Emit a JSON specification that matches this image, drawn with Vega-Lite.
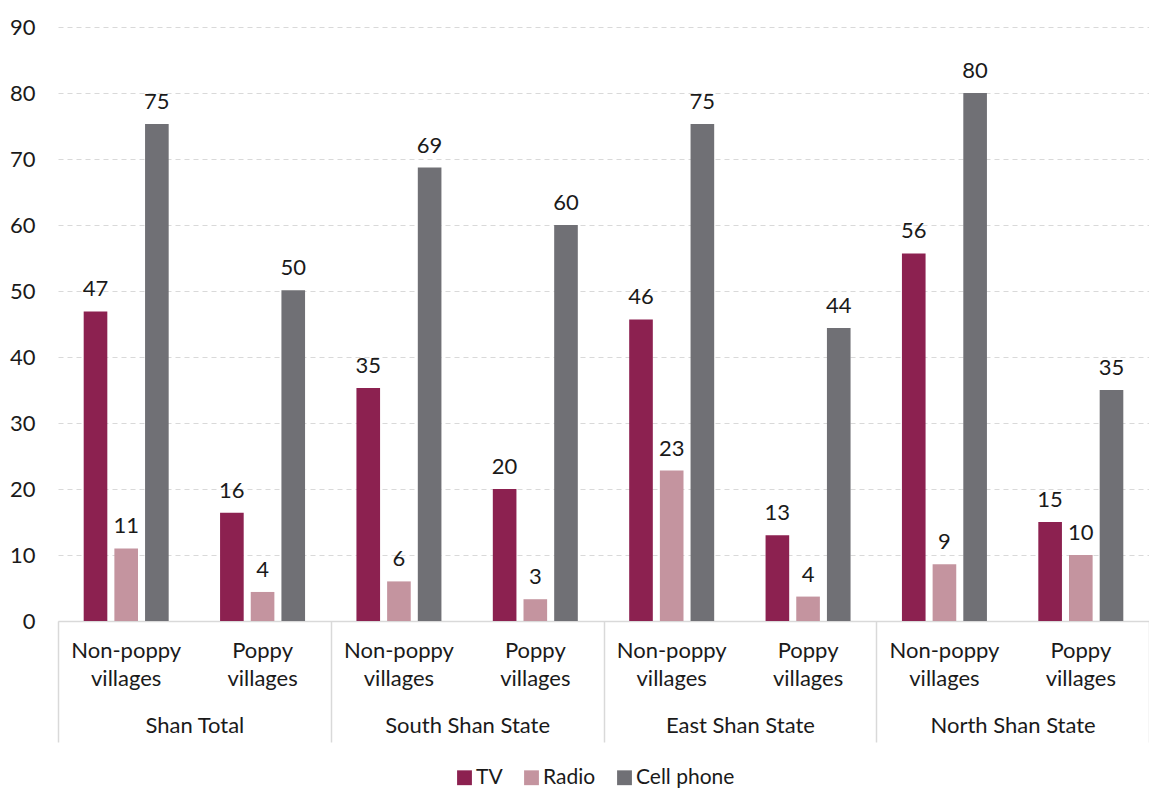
{
  "$schema": "https://vega.github.io/schema/vega-lite/v6.json",
  "width": 1091,
  "height": 594,
  "autosize": {"type": "none"},
  "padding": {"left": 58, "top": 27, "right": 0, "bottom": 168},
  "config": {
    "view": {"stroke": null},
    "font": "Lato",
    "axis": {"labelFont": "Lato", "labelColor": "#1a1a1a", "labelFontSize": 22, "title": null},
    "legend": {"labelFont": "Lato"}
  },
  "data": {
    "values": [
      {"region": "Shan Total", "col": "Shan Total|Non-poppy villages", "item": "TV", "value": 46.9},
      {"region": "Shan Total", "col": "Shan Total|Non-poppy villages", "item": "Radio", "value": 11.0},
      {"region": "Shan Total", "col": "Shan Total|Non-poppy villages", "item": "Cell phone", "value": 75.3},
      {"region": "Shan Total", "col": "Shan Total|Poppy villages", "item": "TV", "value": 16.4},
      {"region": "Shan Total", "col": "Shan Total|Poppy villages", "item": "Radio", "value": 4.4},
      {"region": "Shan Total", "col": "Shan Total|Poppy villages", "item": "Cell phone", "value": 50.1},
      {"region": "South Shan State", "col": "South Shan State|Non-poppy villages", "item": "TV", "value": 35.3},
      {"region": "South Shan State", "col": "South Shan State|Non-poppy villages", "item": "Radio", "value": 6.0},
      {"region": "South Shan State", "col": "South Shan State|Non-poppy villages", "item": "Cell phone", "value": 68.7},
      {"region": "South Shan State", "col": "South Shan State|Poppy villages", "item": "TV", "value": 20.0},
      {"region": "South Shan State", "col": "South Shan State|Poppy villages", "item": "Radio", "value": 3.3},
      {"region": "South Shan State", "col": "South Shan State|Poppy villages", "item": "Cell phone", "value": 60.0},
      {"region": "East Shan State", "col": "East Shan State|Non-poppy villages", "item": "TV", "value": 45.7},
      {"region": "East Shan State", "col": "East Shan State|Non-poppy villages", "item": "Radio", "value": 22.8},
      {"region": "East Shan State", "col": "East Shan State|Non-poppy villages", "item": "Cell phone", "value": 75.3},
      {"region": "East Shan State", "col": "East Shan State|Poppy villages", "item": "TV", "value": 13.0},
      {"region": "East Shan State", "col": "East Shan State|Poppy villages", "item": "Radio", "value": 3.7},
      {"region": "East Shan State", "col": "East Shan State|Poppy villages", "item": "Cell phone", "value": 44.4},
      {"region": "North Shan State", "col": "North Shan State|Non-poppy villages", "item": "TV", "value": 55.7},
      {"region": "North Shan State", "col": "North Shan State|Non-poppy villages", "item": "Radio", "value": 8.6},
      {"region": "North Shan State", "col": "North Shan State|Non-poppy villages", "item": "Cell phone", "value": 80.0},
      {"region": "North Shan State", "col": "North Shan State|Poppy villages", "item": "TV", "value": 15.0},
      {"region": "North Shan State", "col": "North Shan State|Poppy villages", "item": "Radio", "value": 10.0},
      {"region": "North Shan State", "col": "North Shan State|Poppy villages", "item": "Cell phone", "value": 35.0}
    ]
  },
  "layer": [
    {
      "encoding": {
        "x": {
          "field": "col", "type": "nominal", "sort": null,
          "scale": {"paddingInner": 0.325, "paddingOuter": 0.1625},
          "axis": {
            "orient": "bottom",
            "labelExpr": "split(split(datum.value, '|')[1], ' ')",
            "labelAngle": 0,
            "labelPadding": 19,
            "labelLineHeight": 28,
            "labelBaseline": "top",
            "ticks": false,
            "domain": true,
            "domainColor": "#d9d9d9",
            "domainWidth": 1.5,
            "grid": false
          }
        },
        "xOffset": {
          "field": "item", "type": "nominal", "sort": ["TV", "Radio", "Cell phone"],
          "scale": {"paddingInner": 0.23, "paddingOuter": 0.115}
        },
        "y": {
          "field": "value", "type": "quantitative",
          "scale": {"domain": [0, 90], "nice": false},
          "axis": {
            "values": [0, 10, 20, 30, 40, 50, 60, 70, 80, 90],
            "domain": false,
            "ticks": false,
            "labelPadding": 23,
            "grid": true,
            "gridColor": "#d9d9d9",
            "gridDash": [5, 4],
            "gridWidth": 1.2
          }
        }
      },
      "layer": [
        {
          "mark": {"type": "bar"},
          "encoding": {
            "color": {
              "field": "item", "type": "nominal",
              "scale": {"domain": ["TV", "Radio", "Cell phone"], "range": ["#8c2150", "#c4949f", "#707075"]},
              "legend": {
                "title": null,
                "orient": "none",
                "legendX": 396,
                "legendY": 740,
                "direction": "horizontal",
                "symbolType": "square",
                "symbolSize": 220,
                "symbolStrokeWidth": 0,
                "symbolOpacity": 1,
                "labelFontSize": 21,
                "labelColor": "#1a1a1a",
                "columnPadding": 18,
                "labelOffset": 1
              }
            }
          }
        },
        {
          "mark": {"type": "text", "baseline": "bottom", "dy": -10, "fontSize": 22, "color": "#1a1a1a"},
          "encoding": {
            "text": {"field": "value", "type": "quantitative", "format": ".0f"}
          }
        }
      ]
    },
    {
      "mark": {"type": "point", "opacity": 0},
      "encoding": {
        "x": {
          "field": "region", "type": "nominal", "sort": null,
          "scale": {"paddingInner": 0, "paddingOuter": 0},
          "axis": {
            "orient": "bottom",
            "labelAngle": 0,
            "ticks": true,
            "tickBand": "extent",
            "tickSize": 121,
            "tickColor": "#d9d9d9",
            "tickWidth": 1.5,
            "labelPadding": -27,
            "labelBaseline": "top",
            "domain": false,
            "grid": false
          }
        },
        "y": {"datum": 0, "type": "quantitative"}
      }
    }
  ],
  "resolve": {"scale": {"x": "independent"}}
}
